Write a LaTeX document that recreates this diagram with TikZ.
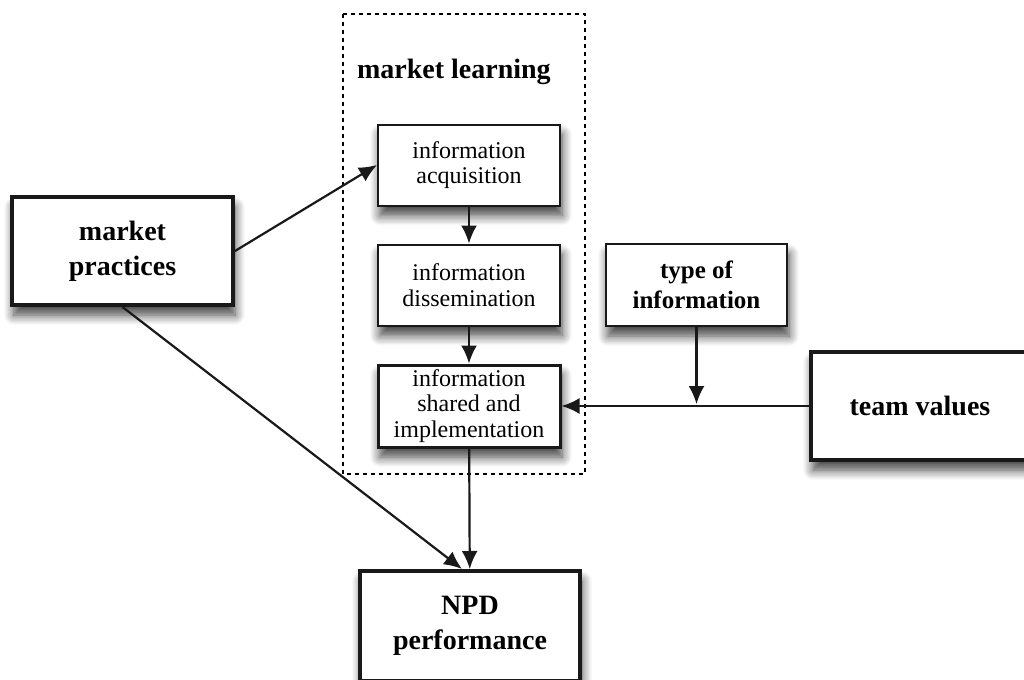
\documentclass[tikz,border=0pt]{standalone}
\usepackage{fontspec}
\setmainfont{Liberation Serif}
\usetikzlibrary{arrows.meta,calc,positioning,shadows.blur}
\definecolor{framegray}{rgb}{0.10,0.10,0.10}

\tikzset{
  stepbox/.style={draw=framegray,fill=white,line width=1pt,align=center,
    inner sep=2pt,font=\fontsize{12}{12.7}\selectfont,
    minimum width=91pt,minimum height=40.5pt,
    blur shadow={shadow xshift=1pt,shadow yshift=-5pt,shadow blur radius=5pt,
      shadow blur steps=8,shadow opacity=75}},
  bigbox/.style={stepbox,line width=2pt,font=\fontsize{14}{17.5}\selectfont\bfseries},
  link/.style={->,line width=1.1pt,draw=framegray},
}

\begin{document}
\begin{tikzpicture}[x=0.5pt,y=-0.5pt,>={Latex[length=9pt,width=8pt]}]
  \useasboundingbox (0,0) rectangle (1024,680);
  % Rahmen: market learning
  \draw[line width=0.8pt,dash pattern=on 2pt off 2pt] (343,14) rectangle (585,474);
  \node[font=\fontsize{14}{16}\selectfont\bfseries,anchor=west] (ml) at (350,72) {market learning};
  % Stufen
  \node[stepbox] (acq) at (469,165) {information\\acquisition};
  \node[stepbox] (dis) at (469,285) {information\\dissemination};
  \node[stepbox,line width=1.5pt,minimum height=41pt] (shr) at (469,406) {information\\shared and\\implementation};
  % aeussere Boxen
  \node[bigbox,minimum width=110.5pt,minimum height=54pt] (mp) at (122.5,251) {market\\practices};
  \node[bigbox,line width=1.2pt,minimum width=90.5pt,minimum height=41pt,font=\fontsize{12.5}{15}\selectfont\bfseries] (toi) at (696.5,285) {type of\\information};
  \node[bigbox,minimum width=109pt,minimum height=54pt] (tv) at (920,406) {team values};
  \node[bigbox,minimum width=110pt,minimum height=55pt] (npd) at (470,626) {NPD\\performance};
  % Pfeile
  \draw[link] (mp.east) -- (acq.west);
  \draw[link] (acq) -- (dis);
  \draw[link] (dis) -- (shr);
  \draw[link] (shr) -- (npd);
  \draw[link] (mp.south) -- ([xshift=-4pt]npd.north);
  \draw[link] (tv.west) -- (shr.east);
  \coordinate (joint) at (toi.south |- shr.east);
  \draw[link] (toi.south) -- ([yshift=1pt]joint);
\end{tikzpicture}
\end{document}
